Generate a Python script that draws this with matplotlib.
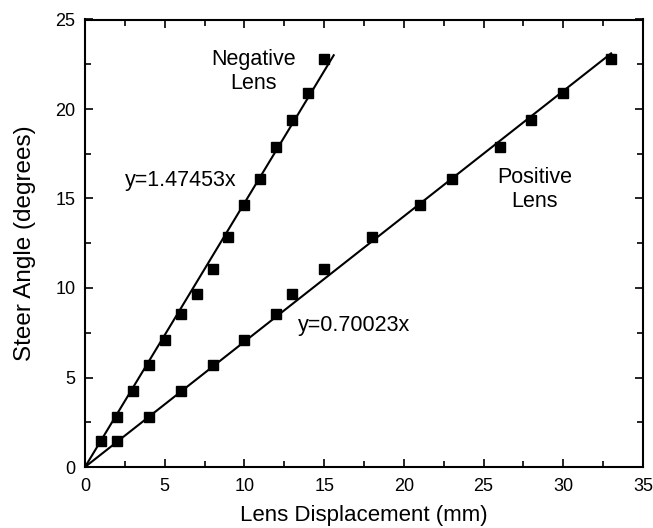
import numpy as np
import matplotlib.pyplot as plt
from matplotlib.ticker import MultipleLocator

plt.rcParams['font.family'] = ['Liberation Sans', 'DejaVu Sans']

# measured steer angles
neg_x = [1, 2, 3, 4, 5, 6, 7, 8, 9, 10, 11, 12, 13, 14, 15]
neg_y = [1.45, 2.8, 4.25, 5.7, 7.1, 8.55, 9.65, 11.05, 12.85, 14.65, 16.1, 17.9, 19.4, 20.9, 22.8]
pos_x = [2, 4, 6, 8, 10, 12, 13, 15, 18, 21, 23, 26, 28, 30, 33]
pos_y = [1.45, 2.8, 4.25, 5.7, 7.1, 8.55, 9.65, 11.05, 12.85, 14.65, 16.1, 17.9, 19.4, 20.9, 22.8]

# linear fits through the origin
neg_slope = 1.47453
pos_slope = 0.70023
neg_xmax = 15.6
pos_xmax = 33.0

fig = plt.figure(figsize=(6.53, 5.28), dpi=100)
ax = fig.add_axes([85 / 653, 1 - 467 / 528, (643 - 85) / 653, (467 - 19.5) / 528])

xf = np.linspace(0, neg_xmax, 50)
ax.plot(xf, neg_slope * xf, color='black', lw=1.5)
xf = np.linspace(0, pos_xmax, 50)
ax.plot(xf, pos_slope * xf, color='black', lw=1.5)

ax.plot(neg_x, neg_y, 's', color='black', ms=7.5)
ax.plot(pos_x, pos_y, 's', color='black', ms=7.5)

ax.text(10.6, 22.1, 'Negative\nLens', ha='center', va='center', fontsize=15.5, linespacing=1.2)
ax.text(28.2, 15.5, 'Positive\nLens', ha='center', va='center', fontsize=15.5, linespacing=1.2)
ax.text(2.5, 16.0, 'y=1.47453x', ha='left', va='center', fontsize=15.5)
ax.text(13.35, 7.9, 'y=0.70023x', ha='left', va='center', fontsize=15.5)

ax.set_xlim(0, 35)
ax.set_ylim(0, 25)
ax.xaxis.set_major_locator(MultipleLocator(5))
ax.xaxis.set_minor_locator(MultipleLocator(2.5))
ax.yaxis.set_major_locator(MultipleLocator(5))
ax.yaxis.set_minor_locator(MultipleLocator(2.5))
ax.tick_params(which='both', direction='in', top=True, right=True, labelsize=13, width=1.2)
ax.tick_params(which='major', length=6)
ax.tick_params(axis='x', which='major', pad=8)
ax.tick_params(axis='y', which='major', pad=7)
ax.tick_params(which='minor', length=4)
for s in ax.spines.values():
    s.set_linewidth(1.5)

ax.set_xlabel('Lens Displacement (mm)', fontsize=16, labelpad=7)
ax.set_ylabel('Steer Angle (degrees)', fontsize=17.5, labelpad=14)

fig.savefig('out.png', dpi=100)
